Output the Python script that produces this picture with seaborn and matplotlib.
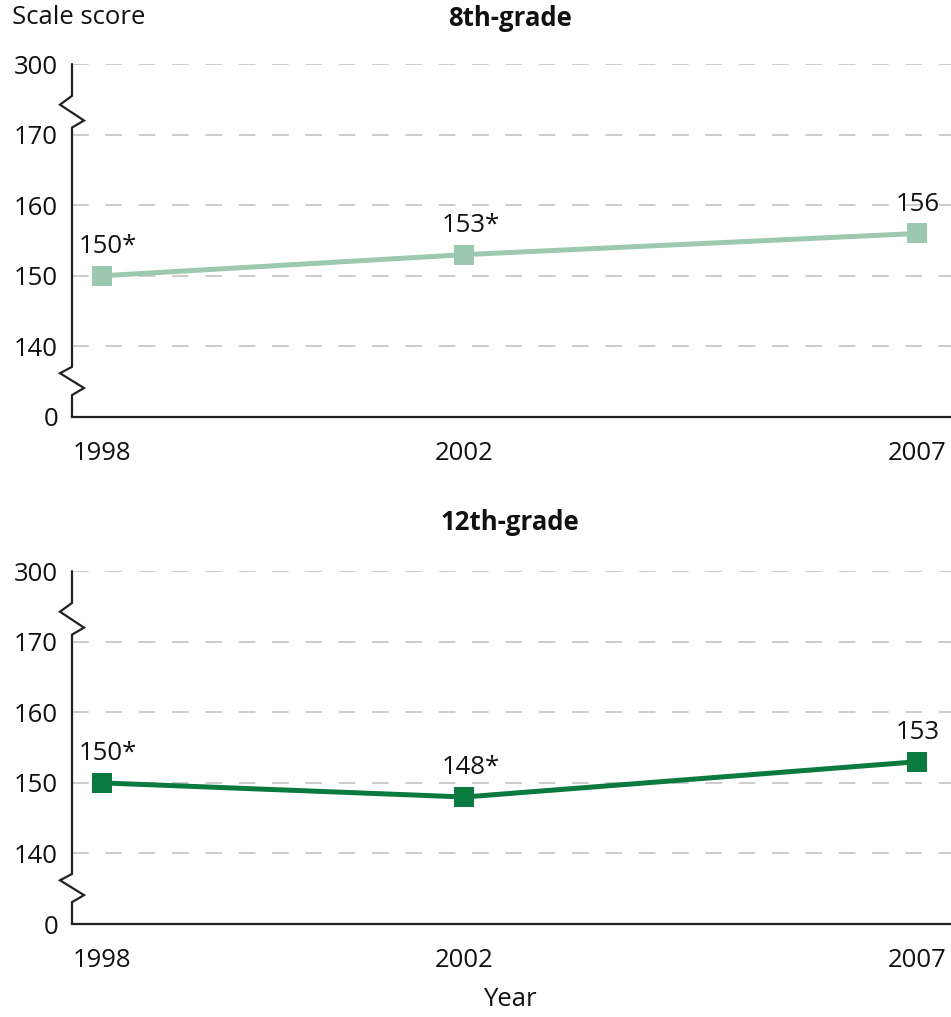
import numpy as np
import pandas as pd
import matplotlib
matplotlib.use("Agg")
import matplotlib.pyplot as plt
import seaborn as sns

years = [1998, 2002, 2007]
grade8_scores = [150, 153, 156]
grade8_labels = ["150*", "153*", "156"]
grade12_scores = [150, 148, 153]
grade12_labels = ["150*", "148*", "153"]
ytick_values = [0, 140, 150, 160, 170, 300]
ytick_labels = ["0", "140", "150", "160", "170", "300"]
grid_values = [140, 150, 160, 170, 300]
panel_titles = ["8th-grade", "12th-grade"]
colors = ["#9cc8b0", "#0b7a3e"]

sns.set_style("white")
plt.rcParams['font.family'] = ['Open Sans', 'DejaVu Sans']
plt.rcParams['lines.scale_dashes'] = False

FS = 18.5

# broken axis mapping
brk_v = [0, 140, 170, 300]
brk_p = [0, 1, 4, 5]
def fwd(v):
    return np.interp(v, brk_v, brk_p)
def inv(p):
    return np.interp(p, brk_p, brk_v)

fig = plt.figure(figsize=(9.51, 10.17), dpi=100)
ax_rects = [[0.0757, 0.590, 0.9243, 0.347], [0.0757, 0.0914, 0.9243, 0.347]]
title_y = [1 - 18 / 1017, 1 - 523 / 1017]
series = [(grade8_scores, grade8_labels), (grade12_scores, grade12_labels)]

for i, (rect, (scores, labels)) in enumerate(zip(ax_rects, series)):
    ax = fig.add_axes(rect)
    df = pd.DataFrame({"year": years, "score": scores})
    ax.set_yscale('function', functions=(fwd, inv))
    sns.lineplot(data=df, x="year", y="score", ax=ax, color=colors[i], linewidth=3.6,
                 marker="s", markersize=15, markeredgewidth=0, zorder=5)
    ax.set_ylim(0, 300)
    ax.set_xlim(1997.67, 2007.37)
    for g in grid_values:
        ax.axhline(g, color="#cccccc", linewidth=1.4, linestyle=(0, (12, 12)), zorder=1)
    ax.set_yticks(ytick_values)
    ax.set_yticklabels(ytick_labels)
    ax.yaxis.set_minor_locator(matplotlib.ticker.NullLocator())
    ax.set_xticks(years)
    ax.set_xticklabels([str(y) for y in years])
    ax.tick_params(axis='y', length=0, pad=10, labelsize=FS, labelcolor="#111111")
    ax.tick_params(axis='x', length=11.5, width=1.6, direction='out', pad=6, labelsize=FS,
                   color='#222222', labelcolor="#111111")
    ax.set_xlabel("")
    ax.set_ylabel("")
    for s in ["top", "right", "left"]:
        ax.spines[s].set_visible(False)
    ax.spines["bottom"].set_linewidth(1.6)
    ax.spines["bottom"].set_color("#222222")
    # left spine with zigzag breaks (axes fraction coords)
    dx = 12 / (rect[2] * 951)
    pts = [(0, 1.0),
           (0, 0.91), (-dx, 0.885), (dx, 0.84), (0, 0.82),
           (0, 0.142), (-dx, 0.124), (dx, 0.082), (0, 0.062),
           (0, 0.0)]
    xs, ys = zip(*pts)
    ax.plot(xs, ys, transform=ax.transAxes, color="#222222", linewidth=1.6,
            clip_on=False, zorder=6, solid_joinstyle='miter')
    for x, s, lab in zip(years, scores, labels):
        off = 4.5 if lab.endswith("*") else 0
        ax.annotate(lab, (x, s), xytext=(off, 12), textcoords="offset points",
                    ha="center", va="bottom", fontsize=FS, color="#111111")
    fig.text(510 / 951, title_y[i], panel_titles[i], fontsize=FS, fontweight="bold",
             ha="center", va="center", color="#111111")

fig.text(12 / 951, 1 - 18 / 1017, "Scale score", fontsize=FS, ha="left", va="center",
         color="#111111")
fig.text(510 / 951, 1 - 1000 / 1017, "Year", fontsize=FS, ha="center", va="center",
         color="#111111")

fig.savefig("out.png", dpi=100)
